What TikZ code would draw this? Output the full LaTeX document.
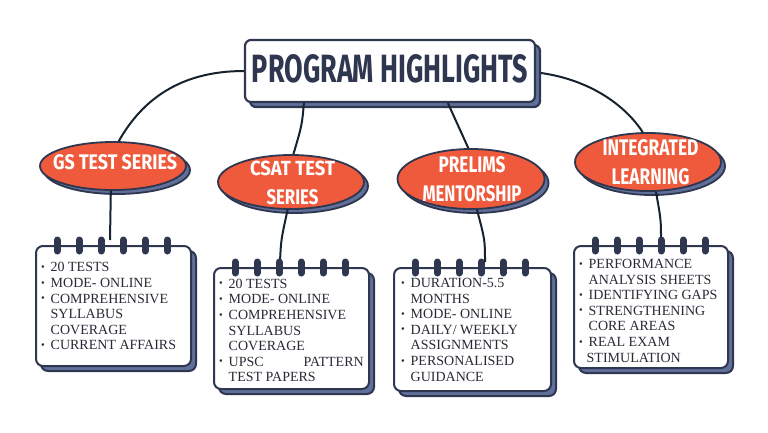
\documentclass[tikz,border=0pt]{standalone}
\usepackage{fontspec}
\setmainfont{Liberation Serif}
\newfontfamily\handfont{Fira Sans}
\usetikzlibrary{shapes.geometric,shadows,calc}
\definecolor{navy}{HTML}{2E3650}
\definecolor{slate}{HTML}{60709A}
\definecolor{orng}{HTML}{EE5A3B}
\definecolor{wire}{HTML}{16222E}
\definecolor{ink}{HTML}{2A2A36}
\newcommand{\bl}{\makebox[9.5pt][l]{\raisebox{1.3pt}{\scalebox{0.75}{•}}}}
\newcommand{\ct}{\makebox[9.5pt][l]{}}
\newcommand{\hw}[3]{\resizebox{#1pt}{#2pt}{\handfont\bfseries #3}}
\tikzset{
  ell/.style={ellipse, draw=navy, line width=1.8pt, fill=orng, inner sep=0pt,
    copy shadow={shadow xshift=4pt, shadow yshift=-4pt, fill=slate, draw=navy}},
  tbox/.style={rectangle, rounded corners=6pt, draw=navy, line width=2.2pt, fill=white, inner sep=0pt,
    copy shadow={shadow xshift=5pt, shadow yshift=-5pt, fill=slate, draw=navy}},
  nbox/.style={rectangle, rounded corners=7pt, draw=navy, line width=2pt, fill=white, inner sep=0pt,
    anchor=north west,
    copy shadow={shadow xshift=5pt, shadow yshift=-5pt, fill=slate, draw=navy}},
  lbl/.style={text=white, inner sep=0pt, align=center, font=\fontsize{20}{29}\selectfont},
  txt/.style={text=ink, inner sep=0pt, anchor=north west, align=left, font=\fontsize{14}{15.6}\selectfont},
  wirel/.style={draw=wire, line width=2pt},
  ring/.style={draw=navy, line width=7pt, line cap=round}
}
\begin{document}
\begin{tikzpicture}[x=1pt,y=-1pt]
\useasboundingbox (0,0) rectangle (768,432);
% title
\node[tbox, minimum width=290pt, minimum height=62pt] (title) at (390,71) {};
\node[text=navy, inner sep=0pt] (tt) at (390,69) {\hw{276}{28}{PROGRAM HIGHLIGHTS}};
% ellipses
\node[ell, minimum width=146pt, minimum height=48pt] (e1) at (113,166) {};
\node[ell, minimum width=146pt, minimum height=54pt] (e2) at (291,182) {};
\node[ell, minimum width=147pt, minimum height=60pt] (e3) at (471,179) {};
\node[ell, minimum width=146pt, minimum height=58pt] (e4) at (648,162) {};
\node[lbl] (l1) at (115,162.5) {\hw{124}{15}{GS TEST SERIES}};
\node[lbl] (l2) at (292.5,183) {\hw{85}{14.5}{CSAT TEST}\\\hw{52}{15}{SERIES}};
\node[lbl] (l3) at (472,179.5) {\hw{67}{16}{PRELIMS}\\\hw{99}{16}{MENTORSHIP}};
\node[lbl] (l4) at (650.5,162.5) {\hw{96}{16}{INTEGRATED}\\\hw{78}{16}{LEARNING}};
% notebooks
\node[nbox, minimum width=155pt, minimum height=120pt] (b1) at (35,245) {};
\node[nbox, minimum width=155pt, minimum height=121pt] (b2) at (213,267) {};
\node[nbox, minimum width=157pt, minimum height=123pt] (b3) at (393,267) {};
\node[nbox, minimum width=154pt, minimum height=122pt] (b4) at (573,245) {};
% connectors
\draw[wirel] (title.west) .. controls (180,71) and (142,100) .. (e1.77);
\draw[wirel] ($(title.east)+(5,2)$) .. controls (590,80) and (625,105) .. (e4.100);
\draw[wirel] ([xshift=60pt]title.south west) .. controls (302,125) .. (e2.85);
\draw[wirel] ([xshift=204pt]title.south west) .. controls (458,125) .. (e3.95);
\draw[wirel] (e1.265) -- ([xshift=75pt,yshift=5pt]b1.north west);
\draw[wirel] (e2.263) .. controls (281,240) .. ([xshift=67pt,yshift=5pt]b2.north west);
\draw[wirel] (e3.-79) .. controls (485,240) .. ([xshift=92pt,yshift=5pt]b3.north west);
\draw[wirel] (e4.-75) .. controls (661,220) .. ([xshift=88pt,yshift=5pt]b4.north west);
% rings
\foreach \b in {b1,b2,b3,b4}{
  \foreach \k in {0,...,5}{
    \draw[ring] ($(\b.north west)+(22+22*\k,-5)$) -- ($(\b.north west)+(22+22*\k,6)$);
  }
}
% texts
\node[txt] (x1) at (41,262.4) {\bl 20 TESTS\\\bl MODE- ONLINE\\\bl COMPREHENSIVE\\\ct SYLLABUS\\\ct COVERAGE\\\bl CURRENT AFFAIRS};
\node[txt] (x2) at (219,278.7) {\bl 20 TESTS\\\bl MODE- ONLINE\\\bl COMPREHENSIVE\\\ct SYLLABUS\\\ct COVERAGE\\\bl \makebox[135pt][l]{UPSC\hfill PATTERN}\\\ct TEST PAPERS};
\node[txt] (x3) at (401,278) {\bl DURATION-5.5\\\ct MONTHS\\\bl MODE- ONLINE\\\bl DAILY/ WEEKLY\\\ct ASSIGNMENTS\\\bl PERSONALISED\\\ct GUIDANCE};
\node[txt] (x4) at (579,259) {\bl PERFORMANCE\\\ct ANALYSIS SHEETS\\\bl IDENTIFYING GAPS\\\bl STRENGTHENING\\\ct CORE AREAS\\\bl REAL EXAM\\\hspace{-2pt}\ct STIMULATION};
\end{tikzpicture}
\end{document}
